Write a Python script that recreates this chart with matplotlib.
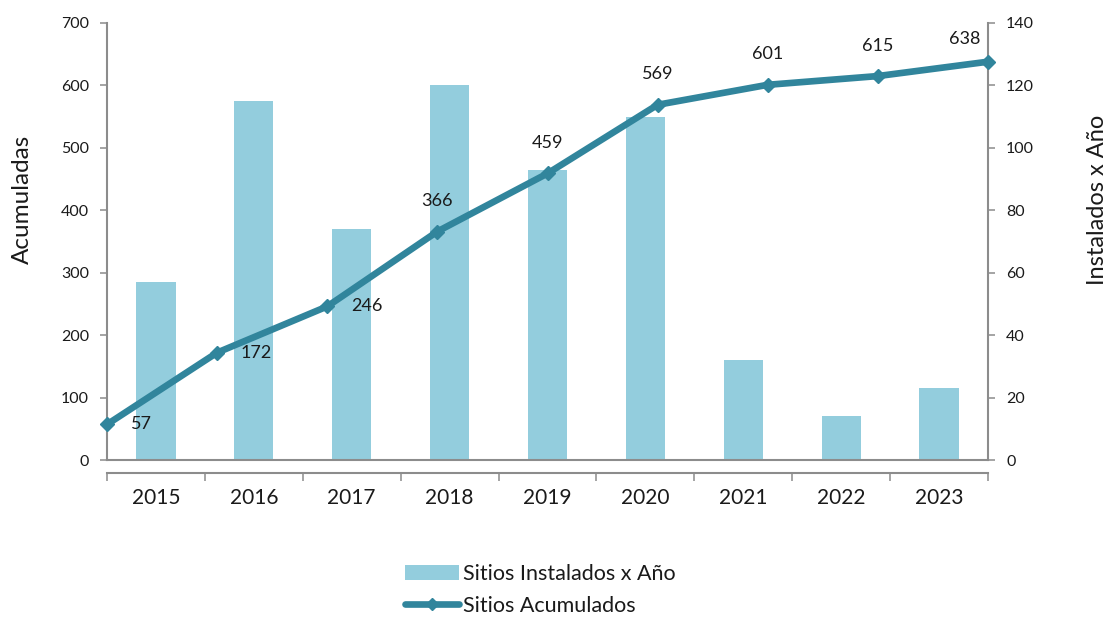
import matplotlib
matplotlib.use("Agg")
import matplotlib.pyplot as plt
import numpy as np
from matplotlib.lines import Line2D
from matplotlib.patches import Patch

years = ["2015", "2016", "2017", "2018", "2019", "2020", "2021", "2022", "2023"]
instalados = [57, 115, 74, 120, 93, 110, 32, 14, 23]
acumulados = [57, 172, 246, 366, 459, 569, 601, 615, 638]
label_pos = ["right", "right", "right", "above", "above", "above", "above", "above", "corner"]

bar_color = "#93CDDD"
line_color = "#31859C"
spine_color = "#8C8C8C"
text_color = "#1A1A1A"

plt.rcParams["font.family"] = ["Lato", "DejaVu Sans"]

fig = plt.figure(figsize=(11.1, 6.18), dpi=100)
rect = [107 / 1110, 1 - 460 / 618, (988 - 107) / 1110, (460 - 23) / 618]

# Bars (right axis, categories)
axb = fig.add_axes(rect)
x = np.arange(len(years))
axb.bar(x, instalados, width=0.4, color=bar_color, zorder=2)
axb.set_xlim(-0.5, len(years) - 0.5)
axb.set_ylim(0, 140)
axb.yaxis.tick_right()
axb.set_yticks(np.arange(0, 141, 20))
axb.tick_params(axis="y", direction="out", length=5, width=1.1, color=spine_color,
                labelsize=11.5, labelcolor=text_color, pad=8)
axb.set_xticks(np.arange(-0.5, len(years), 1.0))
axb.set_xticklabels([])
axb.set_xticks(x, minor=True)
axb.set_xticklabels(years, minor=True)
axb.tick_params(axis="x", which="major", direction="out", length=6, width=1.1, color=spine_color)
axb.tick_params(axis="x", which="minor", length=0, labelsize=15, labelcolor=text_color, pad=11)
for s in ["top", "left"]:
    axb.spines[s].set_visible(False)
axb.spines["bottom"].set_position(("outward", 9))
for s in ["bottom", "right"]:
    axb.spines[s].set_color(spine_color)
    axb.spines[s].set_linewidth(1.5)

# Line (left axis)
axl = fig.add_axes(rect)
axl.patch.set_visible(False)
xl = np.arange(len(years))
axl.plot(xl, acumulados, color=line_color, lw=4.8, marker="D", markersize=7,
         solid_capstyle="round", zorder=5, clip_on=False)
axl.set_xlim(0, len(years) - 1)
axl.set_ylim(0, 700)
axl.set_yticks(np.arange(0, 701, 100))
axl.set_xticks([])
axl.tick_params(axis="y", direction="out", length=5, width=1.1, color=spine_color,
                labelsize=11.5, labelcolor=text_color, pad=8)
for s in ["top", "right"]:
    axl.spines[s].set_visible(False)
for s in ["bottom", "left"]:
    axl.spines[s].set_color(spine_color)
    axl.spines[s].set_linewidth(1.5)

offsets = {"right": (17, 0, "left"), "above": (0, 22, "center"), "corner": (-16.5, 16.5, "center")}
for xi, v, p in zip(xl, acumulados, label_pos):
    dx, dy, ha = offsets[p]
    axl.annotate(str(v), (xi, v), xytext=(dx, dy), textcoords="offset points",
                 ha=ha, va="center", fontsize=13, color=text_color)

fig.text(22 / 1110, 1 - 199 / 618, "Acumuladas", rotation=90, ha="center", va="center",
         fontsize=17.5, color=text_color)
fig.text(1097 / 1110, 1 - 200 / 618, "Instalados x Año", rotation=90, ha="center", va="center",
         fontsize=17, color=text_color)

handles = [Patch(facecolor=bar_color, edgecolor="none"),
           Line2D([0], [0], color=line_color, lw=4.8, marker="D", markersize=6.5, solid_capstyle="round")]
fig.legend(handles, ["Sitios Instalados x Año", "Sitios Acumulados"], loc="center",
           bbox_to_anchor=(0.487, 1 - 590 / 618), frameon=False, fontsize=15.5,
           handlelength=2.5, handletextpad=0.2, labelspacing=0.55, labelcolor=text_color)

fig.savefig("out.png", dpi=100)
